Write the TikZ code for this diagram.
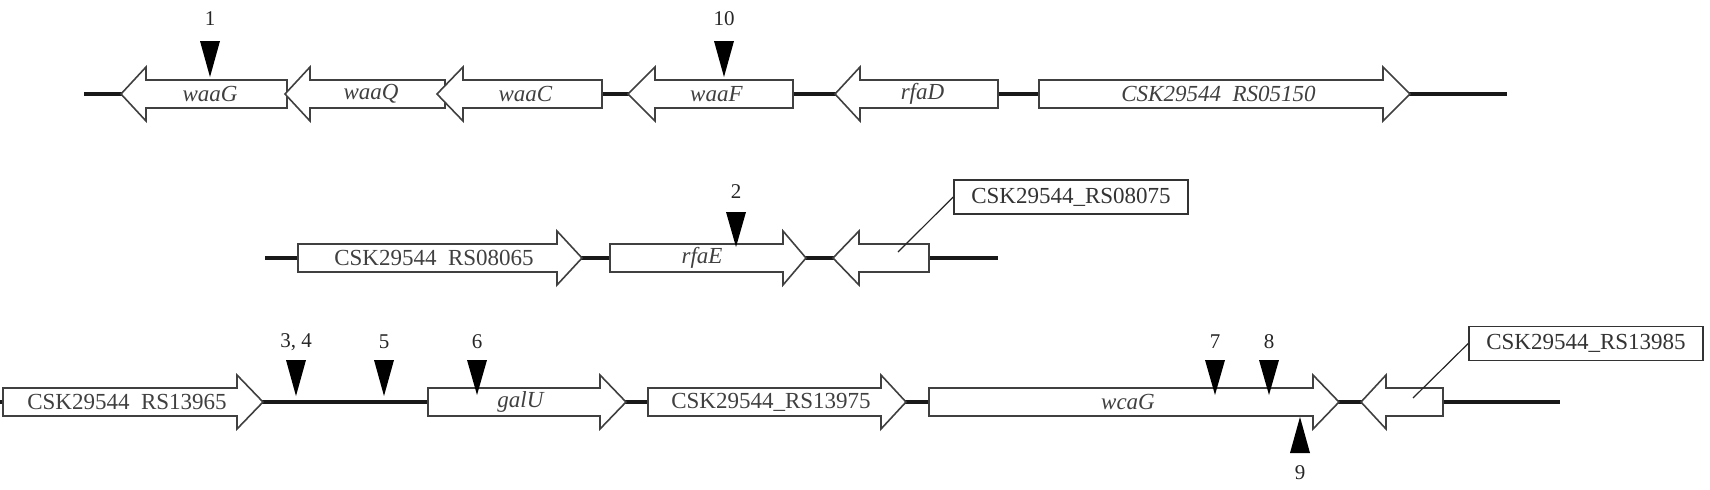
\documentclass[tikz,border=0pt]{standalone}
\usepackage{fontspec}
\setmainfont{Liberation Serif}
\newcommand\geneR[6]{% name, left, head base, tip, y, text
  \draw[gene] (#2,#5-14) -- (#3,#5-14) -- (#3,#5-27) -- (#4,#5) -- (#3,#5+27) -- (#3,#5+14) -- (#2,#5+14) -- cycle;
  \node[gl] (#1) at ({(#2+#4)/2-6},#5) {#6};}
\newcommand\geneL[6]{% name, tip, head base, right, y, text
  \draw[gene] (#4,#5-14) -- (#3,#5-14) -- (#3,#5-27) -- (#2,#5) -- (#3,#5+27) -- (#3,#5+14) -- (#4,#5+14) -- cycle;
  \node[gl] (#1) at ({(#2+#4)/2+6},#5) {#6};}
\newcommand\mdown[6]{% name, x, top, tip, label y, label
  \fill[black] (#2-10,#3) -- (#2+10,#3) -- (#2,#4) -- cycle;
  \node[ml] (#1) at (#2,#5) {#6};}
\newcommand\gap{\hspace{0.25em} }
\begin{document}
\begin{tikzpicture}[x=0.5pt,y=-0.5pt,
  backbone/.style={line width=2pt,black!90},
  gene/.style={draw=black!75,line width=0.8pt,fill=white,line join=miter},
  gl/.style={font=\fontsize{11.5}{13}\selectfont,text=black!75,inner sep=0pt},
  ml/.style={font=\fontsize{10.5}{12}\selectfont,text=black!85,inner sep=0pt},
  lbox/.style={draw=black!80,line width=0.8pt,fill=white,font=\fontsize{11.5}{13}\selectfont,text=black!80,minimum width=117pt,minimum height=17pt,inner sep=0pt},
  leader/.style={draw=black!85,line width=0.6pt}]
\useasboundingbox (0,0) rectangle (1710,489);
% ---------- row 1 ----------
\coordinate (r1a) at (84,94);
\coordinate (r1b) at (1507,94);
\draw[backbone] (r1a) -- (r1b);
\geneL{waaG}{121}{146}{287}{94}{\textit{waaG}}
\geneL{waaQ}{285}{310}{445}{94}{\textit{waaQ}}
\geneL{waaC}{437}{463}{602}{94}{\textit{waaC}}
\geneL{waaF}{628}{655}{793}{94}{\textit{waaF}}
\geneL{rfaD}{835}{860}{998}{94}{\textit{rfaD}}
\geneR{rs05150}{1039}{1383}{1410}{94}{\textit{CSK29544\gap RS05150}}
\mdown{m1}{210}{41}{77}{19}{1}
\mdown{m10}{724}{41}{77}{19}{10}
% ---------- row 2 ----------
\coordinate (r2a) at (265,258);
\coordinate (r2b) at (998,258);
\draw[backbone] (r2a) -- (r2b);
\geneR{rs08065}{298}{557}{582}{258}{CSK29544\gap RS08065}
\geneR{rfaE}{610}{783}{806}{258}{\textit{rfaE}}
\geneL{rs08075g}{833}{859}{929}{258}{}
\mdown{m2}{736}{212}{247}{192}{2}
\coordinate (l1) at (898,252);
\node[lbox] (b1) at (1071,197) {CSK29544\_RS08075};
\draw[leader] (l1) -- (b1.west);
% ---------- row 3 ----------
\coordinate (r3a) at (0,402);
\coordinate (r3b) at (1560,402);
\draw[backbone] (r3a) -- (r3b);
\geneR{rs13965}{3}{237}{263}{402}{CSK29544\gap RS13965}
\geneR{galU}{428}{600}{626}{402}{\textit{galU}}
\geneR{rs13975}{648}{881}{906}{402}{CSK29544\_RS13975}
\geneR{wcaG}{929}{1313}{1339}{402}{\textit{wcaG}}
\geneL{rs13985g}{1361}{1386}{1443}{402}{}
\mdown{m34}{296}{360}{396}{342}{3, 4}
\mdown{m5}{384}{360}{396}{342}{5}
\mdown{m6}{477}{360}{395}{342}{6}
\mdown{m7}{1215}{360}{395}{342}{7}
\mdown{m8}{1269}{360}{395}{342}{8}
\fill[black] (1290,453) -- (1310,453) -- (1300,417) -- cycle;
\node[ml] (m9) at (1300,473) {9};
\coordinate (l2) at (1413,398);
\node[lbox] (b2) at (1586,343.5) {CSK29544\_RS13985};
\draw[leader] (l2) -- (b2.west);
\end{tikzpicture}
\end{document}
